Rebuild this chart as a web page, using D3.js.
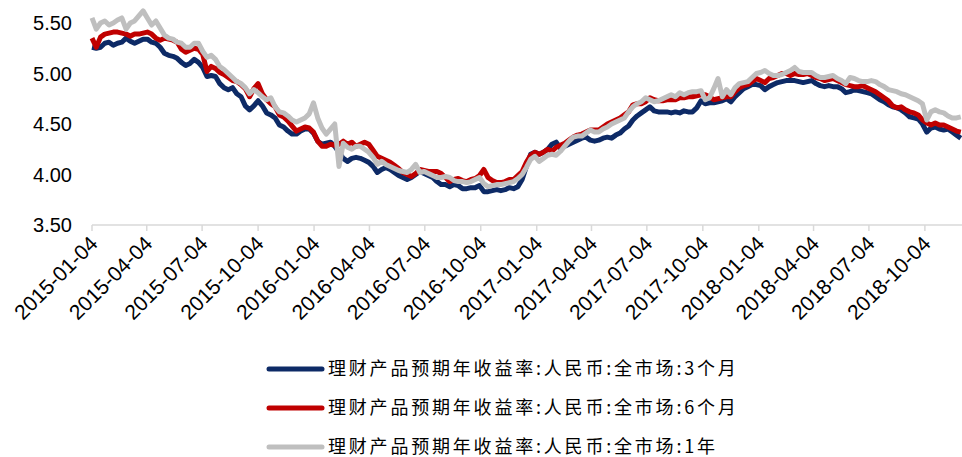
<!DOCTYPE html>
<html>
<head>
<meta charset="utf-8">
<script src="https://cdn.jsdelivr.net/npm/d3@7"></script>
<style>
  body { margin: 0; background: #fff; }
  svg { display: block; }
</style>
</head>
<body>
<svg id="chart" width="962" height="457"></svg>
<script>
var svg = d3.select('#chart')
var width = 962, height = 457

// weekly observations, first one on 2015-01-04
var startDate = "2015-01-04"

var series3m = [5.26,5.25,5.26,5.30,5.31,5.28,5.30,5.31,5.35,5.32,5.30,5.32,5.34,5.34,5.31,5.30,5.26,5.20,5.18,5.17,
  5.15,5.11,5.08,5.10,5.14,5.11,5.06,4.97,4.98,4.97,4.90,4.86,4.84,4.86,4.80,4.77,4.68,4.64,4.68,4.73,
  4.68,4.61,4.59,4.56,4.49,4.47,4.43,4.40,4.40,4.43,4.45,4.45,4.41,4.33,4.30,4.31,4.32,4.28,4.22,4.16,
  4.13,4.16,4.17,4.16,4.14,4.12,4.08,4.02,4.05,4.07,4.05,4.02,3.99,3.97,3.95,3.97,4.00,4.03,4.01,3.99,
  3.97,3.93,3.90,3.90,3.88,3.90,3.89,3.86,3.86,3.87,3.87,3.89,3.83,3.83,3.84,3.85,3.84,3.85,3.87,3.86,
  3.88,3.95,4.08,4.20,4.22,4.20,4.22,4.25,4.30,4.32,4.26,4.28,4.30,4.32,4.34,4.36,4.37,4.34,4.33,4.34,
  4.36,4.37,4.36,4.39,4.41,4.45,4.48,4.54,4.58,4.61,4.64,4.67,4.63,4.62,4.62,4.62,4.61,4.62,4.61,4.63,
  4.62,4.62,4.66,4.73,4.70,4.71,4.71,4.72,4.73,4.75,4.72,4.77,4.81,4.85,4.87,4.89,4.89,4.88,4.84,4.87,
  4.89,4.91,4.92,4.93,4.93,4.93,4.92,4.91,4.92,4.93,4.90,4.88,4.87,4.88,4.87,4.87,4.85,4.81,4.82,4.84,
  4.83,4.82,4.81,4.80,4.77,4.74,4.72,4.69,4.67,4.66,4.64,4.61,4.57,4.56,4.55,4.50,4.42,4.46,4.47,4.45,
  4.44,4.45,4.42,4.39,4.36]

var series6m = [5.35,5.26,5.36,5.39,5.40,5.41,5.41,5.40,5.39,5.37,5.39,5.39,5.40,5.41,5.39,5.35,5.33,5.35,5.34,5.33,
  5.31,5.24,5.21,5.23,5.25,5.24,5.19,5.02,5.07,5.05,5.01,4.99,4.96,4.93,4.92,4.89,4.85,4.77,4.85,4.90,
  4.80,4.74,4.70,4.67,4.59,4.57,4.53,4.48,4.43,4.45,4.47,4.46,4.42,4.33,4.28,4.28,4.30,4.29,4.30,4.33,
  4.30,4.32,4.28,4.30,4.32,4.30,4.24,4.18,4.16,4.14,4.12,4.09,4.06,4.02,4.00,3.98,4.01,4.05,4.04,4.03,
  4.03,4.03,4.01,3.97,3.93,3.95,3.96,3.94,3.93,3.95,3.96,3.99,4.05,3.97,3.94,3.92,3.92,3.93,3.95,3.95,
  3.99,4.03,4.12,4.19,4.22,4.20,4.22,4.25,4.23,4.27,4.29,4.31,4.34,4.37,4.39,4.40,4.42,4.44,4.44,4.44,
  4.47,4.50,4.52,4.54,4.56,4.59,4.62,4.69,4.70,4.70,4.72,4.76,4.74,4.73,4.73,4.74,4.74,4.74,4.76,4.76,
  4.77,4.77,4.78,4.79,4.79,4.77,4.74,4.75,4.76,4.77,4.77,4.82,4.86,4.88,4.89,4.92,4.95,4.93,4.91,4.95,
  4.96,4.98,5.00,5.00,4.98,5.00,4.99,4.99,5.00,4.98,4.96,4.95,4.93,4.94,4.95,4.93,4.91,4.89,4.88,4.87,
  4.87,4.88,4.86,4.84,4.82,4.79,4.76,4.73,4.68,4.66,4.67,4.64,4.62,4.61,4.59,4.54,4.51,4.49,4.51,4.49,
  4.49,4.47,4.45,4.43,4.42]

var series1y = [5.55,5.44,5.50,5.52,5.48,5.50,5.53,5.55,5.44,5.50,5.52,5.57,5.62,5.55,5.48,5.52,5.45,5.38,5.35,5.34,
  5.31,5.30,5.26,5.26,5.30,5.30,5.22,5.16,5.18,5.14,5.07,5.04,5.00,4.96,4.92,4.90,4.86,4.80,4.84,4.81,
  4.77,4.74,4.76,4.67,4.62,4.61,4.58,4.54,4.52,4.54,4.56,4.60,4.71,4.56,4.46,4.40,4.45,4.50,4.08,4.31,
  4.27,4.25,4.28,4.28,4.25,4.22,4.17,4.10,4.13,4.10,4.08,4.06,4.04,4.03,4.02,4.05,4.10,4.02,4.03,4.01,
  3.99,3.97,3.97,3.98,3.97,3.94,3.93,3.93,3.92,3.93,3.95,3.97,3.91,3.88,3.89,3.90,3.90,3.91,3.92,3.93,
  3.96,4.00,4.07,4.15,4.18,4.13,4.16,4.19,4.20,4.19,4.23,4.28,4.33,4.37,4.38,4.38,4.41,4.44,4.42,4.42,
  4.45,4.47,4.50,4.52,4.54,4.56,4.62,4.67,4.70,4.72,4.76,4.74,4.72,4.73,4.75,4.77,4.79,4.77,4.81,4.79,
  4.81,4.82,4.82,4.83,4.74,4.76,4.85,4.95,4.77,4.84,4.79,4.86,4.90,4.91,4.92,4.96,5.00,5.01,5.03,5.00,
  4.98,4.98,4.99,5.01,5.03,5.06,5.02,5.01,5.01,5.01,4.98,4.96,4.96,4.97,4.98,4.95,4.93,4.90,4.96,4.95,
  4.93,4.92,4.92,4.93,4.92,4.89,4.87,4.84,4.83,4.82,4.80,4.79,4.77,4.75,4.73,4.70,4.54,4.62,4.64,4.62,
  4.61,4.58,4.56,4.56,4.57]

var seriesNames = ["理财产品预期年收益率:人民币:全市场:3个月",
  "理财产品预期年收益率:人民币:全市场:6个月",
  "理财产品预期年收益率:人民币:全市场:1年"]
var seriesColors = ["#0d2a66", "#c00000", "#bfbfbf"]

var xTickLabels = ["2015-01-04", "2015-04-04", "2015-07-04", "2015-10-04", "2016-01-04", "2016-04-04",
  "2016-07-04", "2016-10-04", "2017-01-04", "2017-04-04", "2017-07-04", "2017-10-04", "2018-01-04",
  "2018-04-04", "2018-07-04", "2018-10-04"]
var yTickValues = [3.5, 4.0, 4.5, 5.0, 5.5]

var parseDate = d3.timeParse("%Y-%m-%d")
var t0 = parseDate(startDate)
var dates = series3m.map(function (d, i) { return d3.timeWeek.offset(t0, i) })

var x = d3.scaleTime()
  .domain([t0, parseDate("2018-12-04")])
  .range([92, 962])
var y = d3.scaleLinear()
  .domain([3.5, 5.5])
  .range([225, 23])

// y axis labels only (no line)
svg.append("g").selectAll("text")
  .data(yTickValues)
  .enter()
  .append("text")
  .attr("x", 72)
  .attr("y", function (d) { return y(d) })
  .attr("dy", "0.35em")
  .attr("text-anchor", "end")
  .style("font-family", "'Liberation Sans', Arial, sans-serif")
  .style("font-size", "20px")
  .style("fill", "#000")
  .text(function (d) { return d3.format(".2f")(d) })

// x axis
var xAxis = svg.append("g").attr("transform", "translate(0,225)")
xAxis.append("line")
  .attr("x1", 92).attr("x2", 962)
  .attr("y1", 0).attr("y2", 0)
  .style("stroke", "#d9d9d9")
  .style("stroke-width", 1.5)
xAxis.selectAll(".tick")
  .data(xTickLabels)
  .enter()
  .append("line")
  .attr("class", "tick")
  .attr("x1", function (d) { return x(parseDate(d)) })
  .attr("x2", function (d) { return x(parseDate(d)) })
  .attr("y1", 0).attr("y2", 6)
  .style("stroke", "#d9d9d9")
  .style("stroke-width", 1.5)
xAxis.selectAll(".lbl")
  .data(xTickLabels)
  .enter()
  .append("text")
  .attr("class", "lbl")
  .attr("transform", function (d) { return "translate(" + (x(parseDate(d)) + 7) + ",20)rotate(-45)" })
  .attr("text-anchor", "end")
  .style("font-family", "'Liberation Sans', Arial, sans-serif")
  .style("font-size", "21px")
  .style("fill", "#000")
  .text(function (d) { return d })

// lines
var line = d3.line()
  .x(function (d, i) { return x(dates[i]) })
  .y(function (d) { return y(d) })

var allSeries = [series3m, series6m, series1y]
svg.append("g").selectAll("path")
  .data(allSeries)
  .enter()
  .append("path")
  .attr("d", line)
  .style("fill", "none")
  .style("stroke", function (d, i) { return seriesColors[i] })
  .style("stroke-width", 5)
  .style("stroke-linejoin", "round")

// legend
var legend = svg.append("g")
var legendY = [369, 408, 447]
legend.selectAll("line")
  .data(seriesNames)
  .enter()
  .append("line")
  .attr("x1", 269).attr("x2", 322)
  .attr("y1", function (d, i) { return legendY[i] })
  .attr("y2", function (d, i) { return legendY[i] })
  .style("stroke", function (d, i) { return seriesColors[i] })
  .style("stroke-width", 5)
  .style("stroke-linecap", "round")
legend.selectAll("text")
  .data(seriesNames)
  .enter()
  .append("text")
  .attr("x", 328)
  .attr("y", function (d, i) { return legendY[i] })
  .attr("dy", "0.36em")
  .style("font-family", "'Noto Sans CJK SC', sans-serif")
  .style("font-size", "18px")
  .style("letter-spacing", "2.8px")
  .style("fill", "#000")
  .text(function (d) { return d })
</script>
</body>
</html>
